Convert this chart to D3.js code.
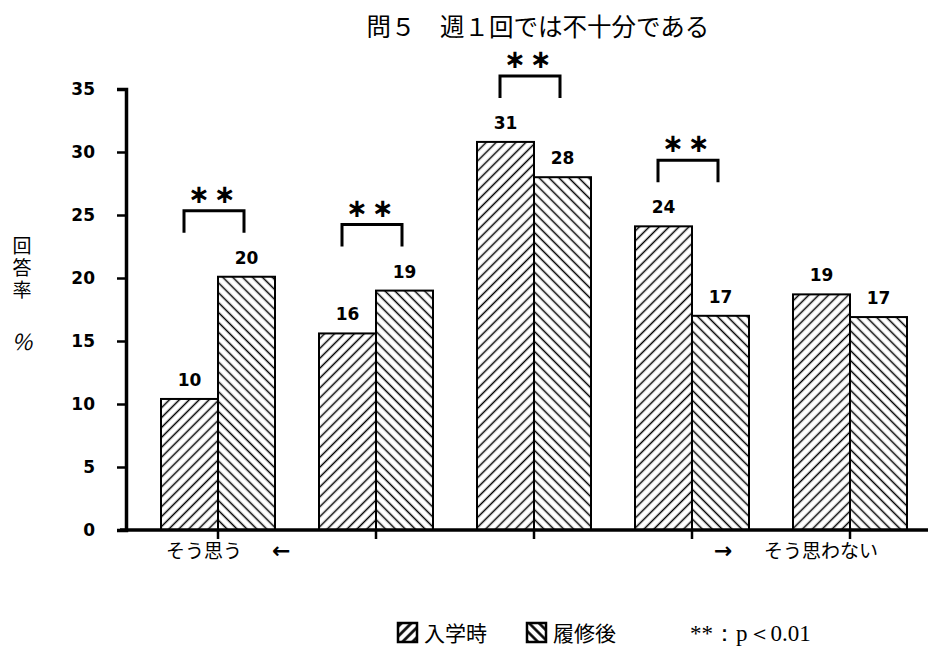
<!DOCTYPE html>
<html>
<head>
  <meta charset="utf-8">
  <title>問5 週1回では不十分である</title>
  <script src="https://d3js.org/d3.v7.min.js"></script>
  <style>
    body { margin: 0; background: #fff; }
  </style>
</head>
<body>
  <script>
    // Data
    let categories = ["1", "2", "3", "4", "5"];
    let series = ["入学時", "履修後"];
    let before = [10.4, 15.6, 30.8, 24.1, 18.7];
    let after = [20.1, 19.0, 28.0, 17.0, 16.9];
    let significant = [true, true, true, true, false];
    let yTicks = [0, 5, 10, 15, 20, 25, 30, 35];

    let width = 945, height = 665;
    let monoFont = "'DejaVu Sans', sans-serif";
    let jpFont = "'Noto Sans CJK JP', sans-serif";

    let svg = d3.select("body")
                .append("svg")
                .attr("width", width)
                .attr("height", height)
                .style("background", "#fff");

    // Hatch patterns
    let defs = svg.append("defs");
    function hatch(id, angle, size, stroke) {
      defs.append("pattern")
          .attr("id", id)
          .attr("patternUnits", "userSpaceOnUse")
          .attr("width", size)
          .attr("height", size)
          .attr("patternTransform", "rotate(" + angle + ")")
        .append("line")
          .attr("x1", size / 2).attr("y1", 0)
          .attr("x2", size / 2).attr("y2", size)
          .attr("stroke", "#000")
          .attr("stroke-width", stroke);
    }
    hatch("h0", 45, 7, 1.5);
    hatch("h1", -45, 7, 1.5);
    hatch("l0", 45, 7, 2.6);
    hatch("l1", -45, 7, 2.6);

    // Scales
    let y = d3.scaleLinear().domain([0, 35]).range([530, 89]);
    let x0 = d3.scaleBand().domain(categories).range([139, 929]).padding(0);
    let groupWidth = 114;
    let x1 = d3.scaleBand().domain(series).range([0, groupWidth]);
    function barX(i, s) {
      return x0(categories[i]) + (x0.bandwidth() - groupWidth) / 2 + x1(s);
    }

    // Title
    svg.append("text")
       .attr("x", 538).attr("y", 36)
       .attr("text-anchor", "middle")
       .attr("font-family", jpFont)
       .attr("font-size", 24.5)
       .text("問５　週１回では不十分である");

    // Bars
    let rows = [];
    categories.forEach(function(c, i) {
      rows.push({i: i, s: series[0], v: before[i], pat: "h0"});
      rows.push({i: i, s: series[1], v: after[i], pat: "h1"});
    });

    svg.selectAll("rect.bar")
       .data(rows)
       .enter()
       .append("rect")
       .attr("class", "bar")
       .attr("x", function(d) { return barX(d.i, d.s); })
       .attr("y", function(d) { return y(d.v); })
       .attr("width", x1.bandwidth())
       .attr("height", function(d) { return y(0) - y(d.v); })
       .attr("fill", function(d) { return "url(#" + d.pat + ")"; })
       .attr("stroke", "#000")
       .attr("stroke-width", 2);

    // Value labels
    svg.selectAll("text.val")
       .data(rows)
       .enter()
       .append("text")
       .attr("class", "val")
       .attr("x", function(d) { return barX(d.i, d.s) + x1.bandwidth() / 2; })
       .attr("y", function(d) { return y(d.v) - 13; })
       .attr("text-anchor", "middle")
       .attr("font-family", monoFont)
       .attr("font-weight", "bold")
       .attr("font-size", 17)
       .text(function(d) { return Math.round(d.v); });

    // Significance brackets
    categories.forEach(function(c, i) {
      if (!significant[i]) return;
      let cx = x0(c) + x0.bandwidth() / 2 - 4;
      let bottom = y(Math.max(before[i], after[i])) - 44;
      let top = bottom - 22;
      svg.append("path")
         .attr("d", "M" + (cx - 30) + "," + bottom + "V" + top + "H" + (cx + 30) + "V" + bottom)
         .attr("fill", "none")
         .attr("stroke", "#000")
         .attr("stroke-width", 3);
      svg.append("text")
         .attr("x", cx).attr("y", top - 8)
         .attr("text-anchor", "middle")
         .attr("font-family", monoFont)
         .attr("font-weight", "bold")
         .attr("font-size", 26)
         .attr("letter-spacing", 4)
         .text("∗∗");
    });

    // Y axis
    let yAxis = svg.append("g")
       .attr("transform", "translate(126,0)")
       .call(d3.axisLeft(y).tickValues(yTicks).tickSize(9).tickPadding(22));
    yAxis.select(".domain").attr("stroke-width", 3.5);
    yAxis.selectAll(".tick line").attr("stroke-width", 2.5);
    yAxis.selectAll(".tick text")
         .attr("font-family", monoFont)
         .attr("font-weight", "bold")
         .attr("font-size", 17)
         .attr("fill", "#000");

    // X axis
    let xAxis = svg.append("g")
       .attr("transform", "translate(0,530)")
       .call(d3.axisBottom(x0).tickSize(9).tickFormat(""));
    xAxis.select(".domain").attr("d", "M120,0H928").attr("stroke-width", 3.5);
    xAxis.selectAll(".tick line").attr("stroke-width", 2.5);

    // Axis titles (vertical)
    svg.append("text")
       .attr("x", 22).attr("y", 236)
       .attr("font-family", jpFont)
       .attr("font-size", 19)
       .style("writing-mode", "vertical-rl")
       .attr("letter-spacing", 3)
       .text("回答率");
    svg.append("text")
       .attr("x", 22).attr("y", 350)
       .attr("text-anchor", "middle")
       .attr("font-family", jpFont)
       .attr("font-size", 22)
       .attr("font-style", "italic")
       .text("%");

    svg.append("text")
       .attr("x", 166).attr("y", 558)
       .attr("font-family", jpFont)
       .attr("font-size", 19)
       .text("そう思う");
    svg.append("text")
       .attr("x", 272).attr("y", 558)
       .attr("font-family", monoFont)
       .attr("font-weight", "bold")
       .attr("font-size", 22)
       .text("←");
    svg.append("text")
       .attr("x", 714).attr("y", 558)
       .attr("font-family", monoFont)
       .attr("font-weight", "bold")
       .attr("font-size", 22)
       .text("→");
    svg.append("text")
       .attr("x", 764).attr("y", 558)
       .attr("font-family", jpFont)
       .attr("font-size", 19)
       .text("そう思わない");

    // Legend
    let legendX = [398, 527];
    series.forEach(function(s, k) {
      svg.append("rect")
         .attr("x", legendX[k]).attr("y", 623)
         .attr("width", 19).attr("height", 19)
         .attr("fill", "url(#l" + k + ")")
         .attr("stroke", "#000")
         .attr("stroke-width", 2.5);
      svg.append("text")
         .attr("x", legendX[k] + 26).attr("y", 641)
         .attr("font-family", jpFont)
         .attr("font-size", 21)
         .text(s);
    });
    svg.append("text")
       .attr("x", 690).attr("y", 641)
       .attr("font-family", "'Liberation Serif', serif")
       .attr("font-size", 23)
       .text("**：p＜0.01");
  </script>
</body>
</html>
